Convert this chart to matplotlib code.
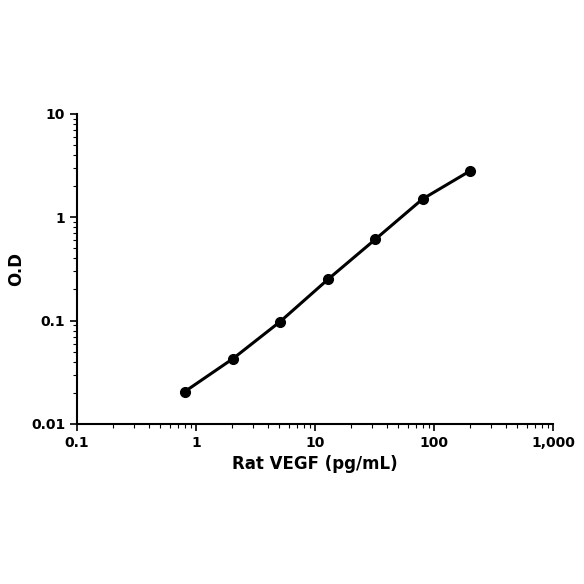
import matplotlib
matplotlib.use("Agg")
import matplotlib.pyplot as plt
from matplotlib.ticker import FixedLocator, FixedFormatter, LogLocator, NullFormatter

conc = [0.8, 2.05, 5.1, 12.8, 32, 80, 200]
od = [0.0205, 0.043, 0.098, 0.25, 0.61, 1.5, 2.8]
xticks = [0.1, 1, 10, 100, 1000]
xlabels = ["0.1", "1", "10", "100", "1,000"]
yticks = [0.01, 0.1, 1, 10]
ylabels = ["0.01", "0.1", "1", "10"]

fig = plt.figure(figsize=(5.84, 5.84), dpi=100)
ax = fig.add_axes([0.132, 0.274, 0.815, 0.531])
ax.plot(conc, od, color="black", lw=2.2, marker="o", ms=7)
ax.set_xscale("log")
ax.set_yscale("log")
ax.set_xlim(0.1, 1000)
ax.set_ylim(0.01, 10)
ax.xaxis.set_major_locator(FixedLocator(xticks))
ax.xaxis.set_major_formatter(FixedFormatter(xlabels))
ax.xaxis.set_minor_locator(LogLocator(base=10, subs=range(2, 10)))
ax.xaxis.set_minor_formatter(NullFormatter())
ax.yaxis.set_major_locator(FixedLocator(yticks))
ax.yaxis.set_major_formatter(FixedFormatter(ylabels))
ax.yaxis.set_minor_locator(LogLocator(base=10, subs=range(2, 10)))
ax.yaxis.set_minor_formatter(NullFormatter())
for s in ["top", "right"]:
    ax.spines[s].set_visible(False)
for s in ["left", "bottom"]:
    ax.spines[s].set_linewidth(1.5)
ax.tick_params(which="major", length=5, width=1.2, labelsize=10)
ax.tick_params(which="minor", length=3, width=0.8)
for lab in ax.get_xticklabels() + ax.get_yticklabels():
    lab.set_fontweight("bold")
ax.set_xlabel("Rat VEGF (pg/mL)", fontsize=12, fontweight="bold")
ax.set_ylabel("O.D", fontsize=12, fontweight="bold")
fig.savefig("out.png", dpi=100)
